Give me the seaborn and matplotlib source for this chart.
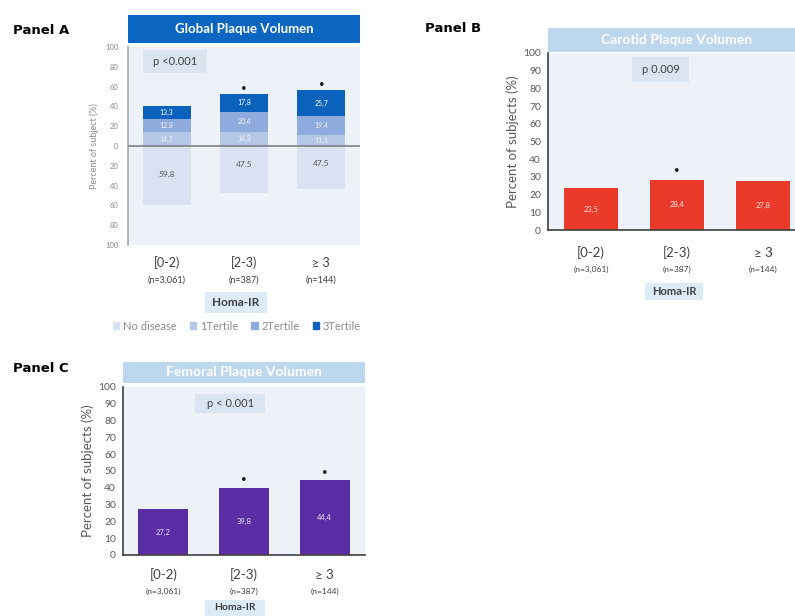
import matplotlib
matplotlib.use("Agg")
import matplotlib.pyplot as plt
from matplotlib.patches import Rectangle, Patch
from matplotlib.transforms import blended_transform_factory
import seaborn as sns
import numpy as np
import pandas as pd

# ---------------- data ----------------
groups = ["[0-2)", "[2-3)", "≥ 3"]
group_n = ["(n=3,061)", "(n=387)", "(n=144)"]

# Panel A (Global plaque volume)
no_disease = [59.8, 47.5, 43.8]
tertile1 = [14.1, 14.3, 11.1]
tertile2 = [12.8, 20.4, 19.4]
tertile3 = [13.3, 17.8, 25.7]
no_disease_labels = ["59.8", "47.5", "47.5"]
t1_labels = ["14,1", "14,3", "11,1"]
t2_labels = ["12,8", "20,4", "19,4"]
t3_labels = ["13,3", "17,8", "25,7"]
stars_a = [False, True, True]

# Panel B (Carotid)
carotid = [23.5, 28.4, 27.8]
carotid_labels = ["23,5", "28,4", "27,8"]
stars_b = [False, True, False]

# Panel C (Femoral)
femoral = [27.2, 39.8, 44.4]
femoral_labels = ["27,2", "39,8", "44,4"]
stars_c = [False, True, True]

# ---------------- style ----------------
sns.set_theme(style="white")
plt.rcParams["font.family"] = ["Lato", "DejaVu Sans"]

W, H = 795, 616
fig = plt.figure(figsize=(W / 100, H / 100), dpi=100)
fig.patch.set_facecolor("white")


def px_axes(x0, y0, x1, y1, **kw):
    return fig.add_axes([x0 / W, 1 - y1 / H, (x1 - x0) / W, (y1 - y0) / H], **kw)


def fig_box(x0, y0, x1, y1, color, text=None, tcolor="white", fs=8, weight="bold", ty=0.5):
    ax = px_axes(x0, y0, x1, y1)
    ax.set_facecolor(color)
    ax.set_xticks([])
    ax.set_yticks([])
    for s in ax.spines.values():
        s.set_visible(False)
    if text:
        ax.text(0.5, ty, text, ha="center", va="center", color=tcolor,
                fontsize=fs, fontweight=weight, transform=ax.transAxes)
    return ax


def p_box(ax, x0, x1, y0, y1, text, fs=7):
    ax.add_patch(Rectangle((x0, y0), x1 - x0, y1 - y0, transform=ax.transAxes,
                           facecolor="#DAE5F1", edgecolor="none", zorder=1))
    ax.text((x0 + x1) / 2, (y0 + y1) / 2, text, transform=ax.transAxes,
            ha="center", va="center", fontsize=fs, color="#404040", zorder=2)


def x_labels(ax, off1, off2, fs1, fs2, axh_px):
    ax.set_xticks(range(len(groups)))
    ax.set_xticklabels([])
    ax.tick_params(axis="x", length=0)
    tr = blended_transform_factory(ax.transData, ax.transAxes)
    for i, (g, n) in enumerate(zip(groups, group_n)):
        ax.text(i, -off1 / axh_px, g, transform=tr, ha="center", va="center",
                fontsize=fs1, color="#404040")
        ax.text(i, -off2 / axh_px, n, transform=tr, ha="center", va="center",
                fontsize=fs2, color="#404040")


c_nd, c_t1, c_t2, c_t3 = "#D9E1F2", "#B4C7E7", "#8FAADC", "#0B62BC"
bg = "#EDF2F9"

# ---------------- Panel A ----------------
fig.text(13 / W, 1 - 30 / H, "Panel A", fontsize=9.5, fontweight="bold",
         ha="left", va="center", color="black", family="DejaVu Sans")
fig_box(128, 15, 360, 43, "#0B66C2", "Global Plaque Volumen", fs=9.5)

axA = px_axes(128, 47, 360, 245)
axA.set_facecolor(bg)
dfA = pd.DataFrame({"group": groups, "nd": no_disease, "t1": tertile1,
                    "t2": tertile2, "t3": tertile3})
dfA["c1"] = dfA["t1"]
dfA["c2"] = dfA["t1"] + dfA["t2"]
dfA["c3"] = dfA["t1"] + dfA["t2"] + dfA["t3"]
dfA["neg"] = -dfA["nd"]
bw = 0.62
for col, colr in [("c3", c_t3), ("c2", c_t2), ("c1", c_t1), ("neg", c_nd)]:
    sns.barplot(data=dfA, x="group", y=col, color=colr, width=bw,
                saturation=1, ax=axA, edgecolor="none", zorder=2)
axA.axhline(0, color="#808080", lw=1.2, zorder=3)
axA.set_xlim(-0.5, 2.5)
axA.set_ylim(-100, 100)
yt = np.arange(-100, 101, 20)
axA.set_yticks(yt)
axA.set_yticklabels([str(abs(v)) for v in yt], fontsize=5.5, color="#8C8C8C")
axA.tick_params(axis="y", length=0, pad=7)
axA.set_ylabel("Percent of subject (%)", fontsize=6.5, color="#8C8C8C", labelpad=4)
axA.set_xlabel("")
for s in ["top", "right", "bottom"]:
    axA.spines[s].set_visible(False)
axA.spines["left"].set_color("#A6A6A6")
axA.spines["left"].set_linewidth(1.2)
for i in range(3):
    c1, c2, c3 = dfA.loc[i, "c1"], dfA.loc[i, "c2"], dfA.loc[i, "c3"]
    axA.text(i, c1 / 2, t1_labels[i], ha="center", va="center", fontsize=5, color="#F2F2F2", zorder=4)
    axA.text(i, (c1 + c2) / 2, t2_labels[i], ha="center", va="center", fontsize=5, color="#F2F2F2", zorder=4)
    axA.text(i, (c2 + c3) / 2, t3_labels[i], ha="center", va="center", fontsize=5, color="white", zorder=4)
    axA.text(i, -no_disease[i] * 0.4 if i else -no_disease[i] / 2 + 1, no_disease_labels[i],
             ha="center", va="center", fontsize=6, color="#595959", zorder=4)
    if stars_a[i]:
        axA.text(i, c3 + 5.5, "•", ha="center", va="center", fontsize=7, color="#1A1A1A", zorder=4)
p_box(axA, 0.065, 0.34, 0.869, 0.985, "p <0.001", fs=8)
x_labels(axA, 18, 35, 9, 6.5, 198)
fig_box(205, 292, 267, 313, "#DDEBF7", "Homa-IR", tcolor="#404040", fs=8.5)
handles = [Patch(color=c) for c in [c_nd, c_t1, c_t2, c_t3]]
fig.legend(handles, ["No disease", "1Tertile", "2Tertile", "3Tertile"],
           loc="center", bbox_to_anchor=(237 / W, 1 - 326 / H), ncol=4,
           frameon=False, fontsize=8, handlelength=0.55, handleheight=0.55,
           handletextpad=0.35, columnspacing=1.2, labelcolor="#8C8C8C")

# ---------------- Panel B ----------------
fig.text(425 / W, 1 - 29 / H, "Panel B", fontsize=9.5, fontweight="bold",
         ha="left", va="center", color="black", family="DejaVu Sans")
fig_box(548, 28, 806, 52, "#BDD7EE", "Carotid Plaque Volumen", fs=10)
axB = px_axes(548, 53, 806, 230)
axB.set_facecolor(bg)
dfB = pd.DataFrame({"group": groups, "val": carotid})
sns.barplot(data=dfB, x="group", y="val", color="#EA3B2A", width=0.63,
            saturation=1, ax=axB, edgecolor="none", zorder=2)
axB.set_xlim(-0.5, 2.5)
axB.set_ylim(0, 100)
axB.set_yticks(np.arange(0, 101, 10))
axB.tick_params(axis="y", labelsize=7.5, labelcolor="#595959", length=3, width=1,
                color="#404040", direction="out", pad=2)
axB.set_ylabel("Percent of subjects (%)", fontsize=9.5, color="#595959", labelpad=3)
axB.set_xlabel("")
for s in ["top", "right"]:
    axB.spines[s].set_visible(False)
for s in ["left", "bottom"]:
    axB.spines[s].set_color("#404040")
    axB.spines[s].set_linewidth(1.2)
for i, v in enumerate(carotid):
    axB.text(i, v / 2, carotid_labels[i], ha="center", va="center", fontsize=5.5, color="#FBE3E0", zorder=4)
    if stars_b[i]:
        axB.text(i, v + 5, "•", ha="center", va="center", fontsize=7, color="#1A1A1A", zorder=4)
p_box(axB, 0.326, 0.547, 0.836, 0.977, "p 0.009", fs=8)
x_labels(axB, 23, 39, 9.5, 6, 177)
fig_box(645, 283, 703, 300, "#DDEBF7", "Homa-IR", tcolor="#404040", fs=8)

# ---------------- Panel C ----------------
fig.text(13 / W, 1 - 368 / H, "Panel C", fontsize=9.5, fontweight="bold",
         ha="left", va="center", color="black", family="DejaVu Sans")
fig_box(123, 362, 365, 383, "#BDD7EE", "Femoral Plaque Volumen", fs=10)
axC = px_axes(123, 387, 365, 555)
axC.set_facecolor(bg)
dfC = pd.DataFrame({"group": groups, "val": femoral})
sns.barplot(data=dfC, x="group", y="val", color="#5B2EA6", width=0.62,
            saturation=1, ax=axC, edgecolor="none", zorder=2)
axC.set_xlim(-0.5, 2.5)
axC.set_ylim(0, 100)
axC.set_yticks(np.arange(0, 101, 10))
axC.tick_params(axis="y", labelsize=7.5, labelcolor="#595959", length=3, width=1,
                color="#404040", direction="out", pad=2)
axC.set_ylabel("Percent of subjects (%)", fontsize=9.5, color="#595959", labelpad=3)
axC.set_xlabel("")
for s in ["top", "right"]:
    axC.spines[s].set_visible(False)
for s in ["left", "bottom"]:
    axC.spines[s].set_color("#404040")
    axC.spines[s].set_linewidth(1.2)
for i, v in enumerate(femoral):
    axC.text(i, v / 2, femoral_labels[i], ha="center", va="center", fontsize=5.5, color="#E8E0F4", zorder=4)
    if stars_c[i]:
        axC.text(i, v + 5, "•", ha="center", va="center", fontsize=7, color="#1A1A1A", zorder=4)
p_box(axC, 0.298, 0.587, 0.845, 0.958, "p < 0.001", fs=8)
x_labels(axC, 20, 36, 9.5, 6, 168)
fig_box(205, 600, 265, 616, "#DDEBF7", "Homa-IR", tcolor="#404040", fs=7.5)

fig.savefig("out.png", dpi=100, facecolor="white")
